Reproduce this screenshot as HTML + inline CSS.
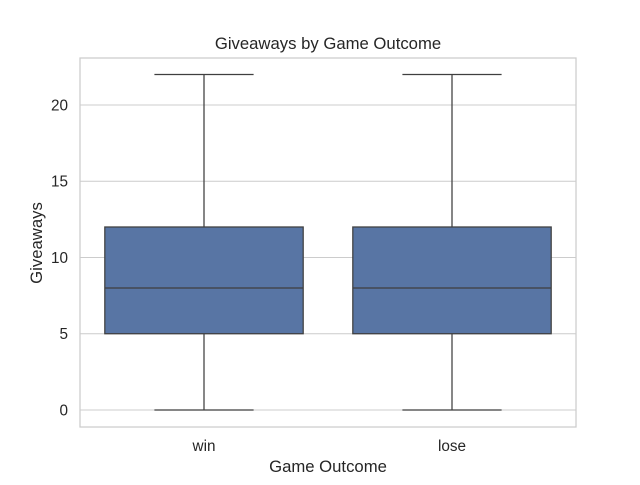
<!DOCTYPE html>
<html><head><meta charset="utf-8"><style>
body{margin:0;background:#fff;font-family:"Liberation Sans",sans-serif;}
svg text{font-family:"Liberation Sans",sans-serif;fill:#262626;}
</style></head><body>
<svg id="chart" width="640" height="480">
<text x="328" y="49" font-size="16.7" text-anchor="middle">Giveaways by Game Outcome</text>
<g id="grid"></g>
<g id="boxes"></g>
<rect x="80" y="58" width="496" height="369" fill="none" stroke="#cccccc" stroke-width="1.25"/>
<g id="labels"></g>
<text x="328" y="472" font-size="16.7" text-anchor="middle">Game Outcome</text>
<text transform="translate(42,243) rotate(-90)" font-size="16.7" text-anchor="middle">Giveaways</text>
</svg>
<script>
const categories=["win","lose"];
const mins=[0,0];
const q1s=[5,5];
const medians=[8,8];
const q3s=[12,12];
const maxs=[22,22];
const yTicks=[0,5,10,15,20];
const NS="http://www.w3.org/2000/svg";
const L=80,R=576,T=58,B=427,yMin=-1.115,yMax=23.08;
const y=v=>B-(v-yMin)/(yMax-yMin)*(B-T);
const band=(R-L)/categories.length;
const x=i=>L+band*(i+0.5);
function mk(tag,attrs,parent){const e=document.createElementNS(NS,tag);for(const k in attrs)e.setAttribute(k,attrs[k]);document.getElementById(parent).appendChild(e);return e;}
yTicks.forEach(t=>{
 const g=mk('line',{x1:L,x2:R,y1:y(t),y2:y(t),stroke:'#cccccc','stroke-width':1},'grid');
 
 
 const tx=mk('text',{x:L-12,y:y(t)+5.5,'font-size':15.3,'text-anchor':'end'},'labels');
 tx.textContent=t;
 
 
});
categories.forEach((c,i)=>{
 const cx=x(i),w=band*0.8,s='#3f3f3f';
 const wl=mk('line',{x1:cx,x2:cx,y1:y(q1s[i]),y2:y(mins[i]),stroke:s,'stroke-width':1.25},'boxes');
 
 
 const wh=mk('line',{x1:cx,x2:cx,y1:y(q3s[i]),y2:y(maxs[i]),stroke:s,'stroke-width':1.25},'boxes');
 
 
 const cl=mk('line',{x1:cx-w/4,x2:cx+w/4,y1:y(mins[i]),y2:y(mins[i]),stroke:s,'stroke-width':1.25},'boxes');
 
 
 const ch=mk('line',{x1:cx-w/4,x2:cx+w/4,y1:y(maxs[i]),y2:y(maxs[i]),stroke:s,'stroke-width':1.25},'boxes');
 
 
 const r=mk('rect',{x:cx-w/2,y:y(q3s[i]),width:w,height:y(q1s[i])-y(q3s[i]),fill:'#5875a4',stroke:s,'stroke-width':1.25},'boxes');
 
 
 const m=mk('line',{x1:cx-w/2,x2:cx+w/2,y1:y(medians[i]),y2:y(medians[i]),stroke:s,'stroke-width':1.25},'boxes');
 
 
 const tx=mk('text',{x:cx,y:B+24,'font-size':15.3,'text-anchor':'middle'},'labels');
 tx.textContent=c;
 
 
});
</script>
</body></html>
